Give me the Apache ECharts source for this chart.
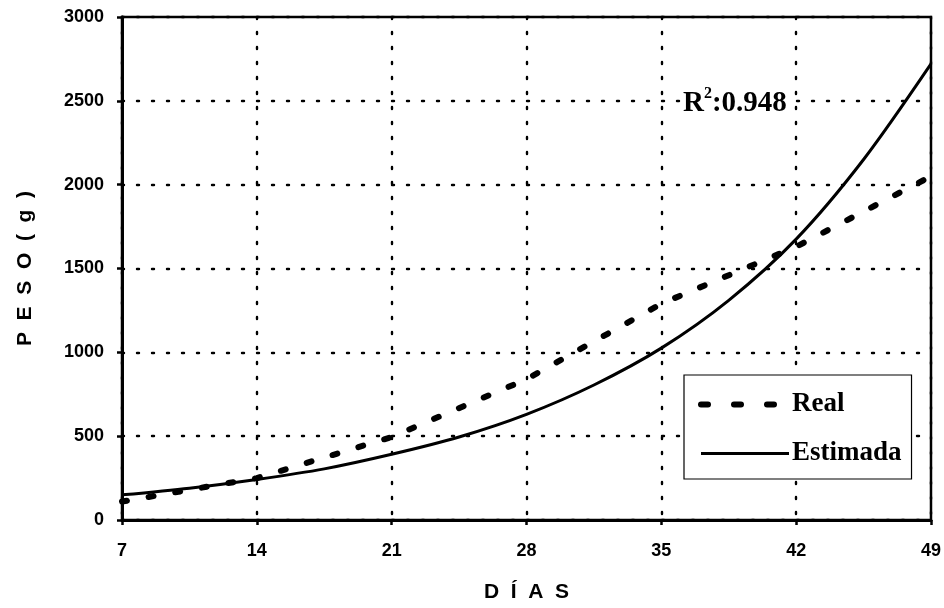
<!DOCTYPE html>
<html><head><meta charset="utf-8">
<script src="https://cdn.jsdelivr.net/npm/echarts@6/dist/echarts.min.js"></script>
<style>html,body{margin:0;padding:0;background:#fff}#c{width:944px;height:608px}</style>
</head><body><div id="c"></div>
<script>
// Data
const realDays = [7, 14, 21, 28, 35, 42, 49];
const realValues = [110, 250, 495, 840, 1290, 1630, 2050];
const estDays = [7, 10.5, 14, 17.5, 21, 24.5, 28, 31.5, 35, 38.5, 42, 45.5, 49];
const estValues = [150, 190, 242, 305, 392, 495, 630, 805, 1025, 1310, 1675, 2150, 2720];
const xTicks = [7, 14, 21, 28, 35, 42, 49];
const yTicks = [0, 500, 1000, 1500, 2000, 2500, 3000];
const seriesNames = ['Real', 'Estimada'];
const r2Label = '0.948';

const chart = echarts.init(document.getElementById('c'), null, {renderer: 'canvas'});
const dotted = {color: '#000', width: 2.4, type: [2, 13], cap: 'round'};
const sans = 'Liberation Sans, Arial';
const serif = 'Liberation Serif, Times New Roman';
chart.setOption({
  animation: false,
  backgroundColor: '#fff',
  grid: {left: 122, right: 12, top: 17, bottom: 87, show: true, borderColor: '#000', borderWidth: 2.5, backgroundColor: 'transparent'},
  xAxis: {
    type: 'value', min: xTicks[0], max: xTicks[xTicks.length - 1], interval: 7,
    axisLine: {show: true, lineStyle: {color: '#000', width: 3}},
    axisTick: {show: true, inside: false, length: 5, lineStyle: {color: '#000', width: 2.5}},
    splitLine: {show: true, lineStyle: dotted},
    axisLabel: {color: '#000', fontFamily: sans, fontWeight: 'bold', fontSize: 18, margin: 22,
      formatter: v => String(v), showMinLabel: true, showMaxLabel: true},
    name: 'D  Í  A  S', nameLocation: 'middle', nameGap: 62,
    nameTextStyle: {color: '#000', fontFamily: sans, fontWeight: 'bold', fontSize: 21}
  },
  yAxis: {
    type: 'value', min: yTicks[0], max: yTicks[yTicks.length - 1], interval: 500,
    axisLine: {show: true, lineStyle: {color: '#000', width: 3}},
    axisTick: {show: true, inside: false, length: 5, lineStyle: {color: '#000', width: 2.5}},
    splitLine: {show: true, lineStyle: dotted},
    axisLabel: {color: '#000', fontFamily: sans, fontWeight: 'bold', fontSize: 18, margin: 18,
      formatter: v => String(v)},
    name: 'P  E  S  O  (  g  )', nameLocation: 'middle', nameGap: 86, nameRotate: 90,
    nameTextStyle: {color: '#000', fontFamily: sans, fontWeight: 'bold', fontSize: 21}
  },
  legend: {
    show: true, orient: 'vertical', left: 684, top: 375,
    padding: [16, 10, 12, 14], itemGap: 22, itemWidth: 88, itemHeight: 20,
    borderColor: '#000', borderWidth: 1.2, backgroundColor: '#fff',
    itemStyle: {color: 'transparent', borderWidth: 0, opacity: 0},
    textStyle: {color: '#000', fontFamily: serif, fontWeight: 'bold', fontSize: 27, padding: [0, 0, 0, -2]},
    data: [
      {name: seriesNames[0], lineStyle: {color: '#000', width: 6, type: [7, 26], cap: 'round'}},
      {name: seriesNames[1], lineStyle: {color: '#000', width: 3, type: 'solid'}}
    ]
  },
  series: [
    {
      name: seriesNames[0], type: 'line', symbol: 'none', z: 3,
      data: realDays.map((d, i) => [d, realValues[i]]),
      lineStyle: {color: '#000', width: 6, type: [5, 22], cap: 'round'},
      itemStyle: {color: '#000'}
    },
    {
      name: seriesNames[1], type: 'line', symbol: 'none', smooth: 0.3, z: 4,
      data: estDays.map((d, i) => [d, estValues[i]]),
      lineStyle: {color: '#000', width: 3, type: 'solid'},
      itemStyle: {color: '#000'}
    }
  ],
  graphic: [{
    type: 'text', left: 681, top: 86, z: 10,
    style: {
      text: '{r|R}{s|2}{r|:' + r2Label + '}',
      backgroundColor: '#fff', padding: [0, 2, 0, 2],
      rich: {
        r: {fontFamily: serif, fontWeight: 'bold', fontSize: 29, fill: '#000', verticalAlign: 'bottom', lineHeight: 32},
        s: {fontFamily: serif, fontWeight: 'bold', fontSize: 16, fill: '#000', verticalAlign: 'top', lineHeight: 32, padding: [0, 0, 14, 0]}
      }
    }
  }]
});
</script></body></html>
